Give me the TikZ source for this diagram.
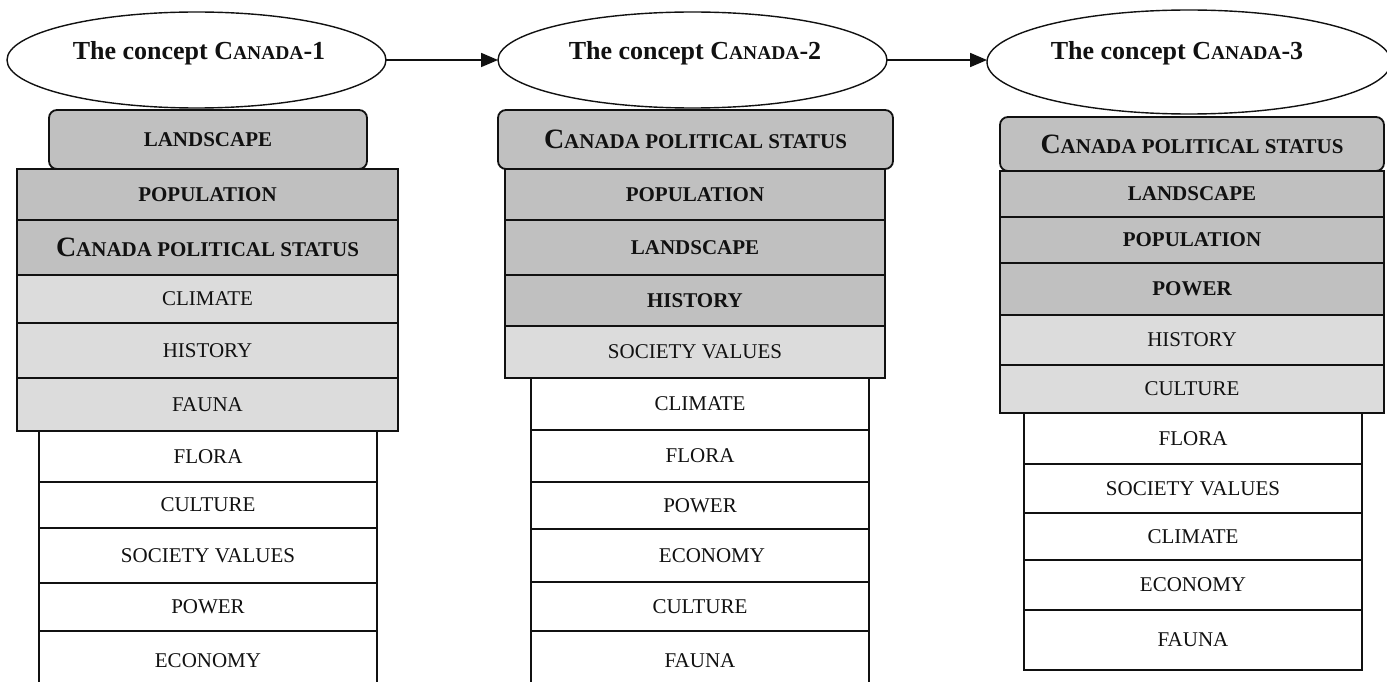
\documentclass[tikz,border=0pt]{standalone}
\usepackage{fontspec}
\setmainfont{Liberation Serif}
\usetikzlibrary{shapes.geometric,arrows.meta}
\definecolor{dkfill}{HTML}{C0C0C0}
\definecolor{ltfill}{HTML}{DCDCDC}
\definecolor{ink}{HTML}{111111}
\newcommand{\rbox}[7]{\node[#1, minimum width={#4-#3}, minimum height={#6-#5}] (#2) at ({(#3+#4)/2},{(#5+#6)/2}) {#7};}
\newcommand{\ttl}[1]{\fontsize{26}{30}\selectfont\bfseries The concept C{\fontsize{19.5}{22}\selectfont ANADA}-#1}
\newcommand{\cps}{{\fontsize{28}{30}\selectfont C}{\fontsize{21}{24}\selectfont ANADA POLITICAL STATUS}}
\begin{document}
\begin{tikzpicture}[x=1pt,y=-1pt,
  base/.style={draw=ink, line width=1.8pt, inner sep=0pt, outer sep=0pt, text=ink, anchor=center},
  dk/.style={base, fill=dkfill, font=\fontsize{21}{24}\selectfont\bfseries},
  lt/.style={base, fill=ltfill, font=\fontsize{21}{24}\selectfont},
  wt/.style={base, fill=white, font=\fontsize{21}{24}\selectfont},
  rd/.style={dk, rounded corners=8pt},
  ell/.style={ellipse, draw=ink, line width=1.4pt, fill=white, inner sep=0pt, outer sep=0pt},
  ttlnode/.style={inner sep=0pt, text=ink},
  arr/.style={draw=ink, line width=1.8pt, -{Triangle[length=17pt,width=14pt]}}
]
\useasboundingbox (0,0) rectangle (1387,682);
\clip (0,0) rectangle (1387,682);
\fill[white] (0,0) rectangle (1387,682);

% ---------- ellipses ----------
\node[ell, minimum width=379, minimum height=96] (e1) at (196.5,60) {};
\node[ell, minimum width=389, minimum height=96] (e2) at (692.5,60) {};
\node[ell, minimum width=404, minimum height=104] (e3) at (1189,62) {};
\node[ttlnode] (t1) at (199,53) {\ttl{1}};
\node[ttlnode] (t2) at (695,53) {\ttl{2}};
\node[ttlnode] (t3) at (1177,53) {\ttl{3}};
\draw[arr] (e1.east) -- (e2.west);
\draw[arr] (e2.east) -- (e2.east -| e3.west);

% ---------- column 1 ----------
\rbox{wt}{a10}{39}{377}{631}{690}{ECONOMY}
\rbox{wt}{a9}{39}{377}{583}{631}{POWER}
\rbox{wt}{a8}{39}{377}{528}{583}{SOCIETY VALUES}
\rbox{wt}{a7}{39}{377}{482}{528}{CULTURE}
\rbox{wt}{a6}{39}{377}{431}{482}{FLORA}
\rbox{lt}{a5}{17}{398}{378}{431}{FAUNA}
\rbox{lt}{a4}{17}{398}{323}{378}{HISTORY}
\rbox{lt}{a3}{17}{398}{275}{323}{CLIMATE}
\rbox{dk}{a2}{17}{398}{220}{275}{\cps}
\rbox{dk}{a1}{17}{398}{169}{220}{POPULATION}
\rbox{rd}{a0}{49}{367}{110}{169}{LANDSCAPE}

% ---------- column 2 ----------
\rbox{wt}{b10}{531}{869}{631}{690}{FAUNA}
\rbox{wt}{b9}{531}{869}{582}{631}{CULTURE}
\rbox{wt}{b8}{531}{869}{529}{582}{\hspace*{24pt}ECONOMY}
\draw[ink, line width=2.8pt] (b8.south west) -- (b8.south east);
\rbox{wt}{b7}{531}{869}{482}{529}{POWER}
\rbox{wt}{b6}{531}{869}{430}{482}{FLORA}
\rbox{wt}{b5}{531}{869}{378}{430}{CLIMATE}
\rbox{lt}{b4}{505}{885}{326}{378}{SOCIETY VALUES}
\rbox{dk}{b3}{505}{885}{275}{326}{HISTORY}
\rbox{dk}{b2}{505}{885}{220}{275}{LANDSCAPE}
\rbox{dk}{b1}{505}{885}{169}{220}{POPULATION}
\rbox{rd}{b0}{498}{893}{110}{169}{\cps}

% ---------- column 3 ----------
\rbox{wt}{c10}{1024}{1362}{610}{670}{FAUNA}
\rbox{wt}{c9}{1024}{1362}{560}{610}{ECONOMY}
\rbox{wt}{c8}{1024}{1362}{513}{560}{CLIMATE}
\rbox{wt}{c7}{1024}{1362}{464}{513}{SOCIETY VALUES}
\rbox{wt}{c6}{1024}{1362}{413}{464}{FLORA}
\rbox{lt}{c5}{1000}{1384}{365}{413}{CULTURE}
\rbox{lt}{c4}{1000}{1384}{315}{365}{HISTORY}
\rbox{dk}{c3}{1000}{1384}{263}{315}{POWER}
\rbox{dk}{c2}{1000}{1384}{217}{263}{POPULATION}
\rbox{dk}{c1}{1000}{1384}{171}{217}{LANDSCAPE}
\rbox{rd}{c0}{1000}{1384}{117}{171}{\cps}
\end{tikzpicture}
\end{document}
